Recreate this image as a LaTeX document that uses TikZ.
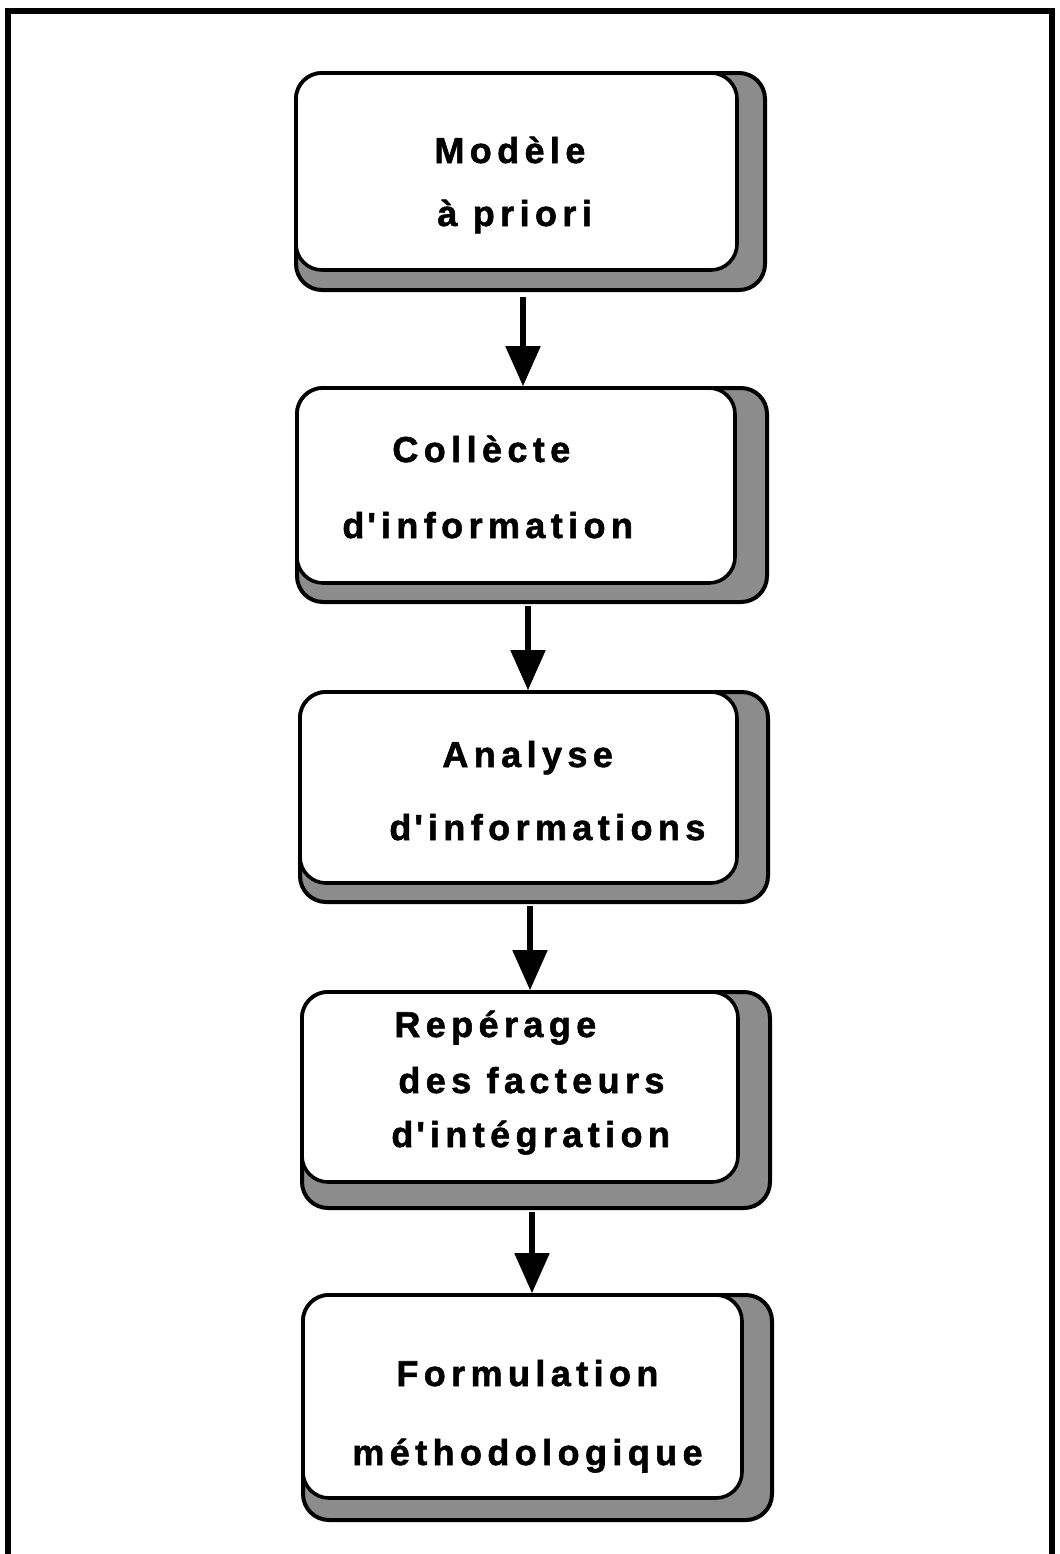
\documentclass[tikz,border=0pt]{standalone}
\usepackage{fontspec}
\newfontfamily\lblfont[LetterSpace=15,BoldFont={Liberation Sans Bold},BoldFeatures={FakeBold=1.5}]{Liberation Sans}
\usetikzlibrary{arrows.meta}
\tikzset{
  shadowbox/.style={draw=black, line width=2pt, fill=black!45, rounded corners=13pt, inner sep=0pt},
  stepbox/.style={draw=black, line width=1.8pt, fill=white, rounded corners=13pt, inner sep=0pt},
  lbl/.style={anchor=base west, inner sep=0pt, font=\lblfont\bfseries\fontsize{18pt}{21pt}\selectfont},
  arr/.style={line width=2.6pt, -{Triangle[length=20pt,width=17pt]}},
  frame/.style={line width=3pt}
}
\newcommand\apos{\kern1.5pt\textquotesingle\kern2.5pt}
\begin{document}
\begin{tikzpicture}[x=0.5pt,y=-0.5pt]
\useasboundingbox (0,0) rectangle (1060,1554);
\draw[frame] (7.5,1554) -- (7.5,11) -- (1052,11) -- (1052,1554);

% shadows
\node[shadowbox, minimum width=234.5pt, minimum height=108.5pt] (s1) at (530.5,181.5) {};
\node[shadowbox, minimum width=235pt, minimum height=107pt] (s2) at (532,495) {};
\node[shadowbox, minimum width=234pt, minimum height=105pt] (s3) at (534,797) {};
\node[shadowbox, minimum width=234pt, minimum height=108pt] (s4) at (536,1100) {};
\node[shadowbox, minimum width=234.5pt, minimum height=112.5pt] (s5) at (537.5,1407.5) {};

% boxes
\node[stepbox, minimum width=220.5pt, minimum height=98.5pt] (b1) at (516.5,171.5) {};
\node[stepbox, minimum width=219pt, minimum height=97.5pt] (b2) at (516,485.5) {};
\node[stepbox, minimum width=218.5pt, minimum height=95.5pt] (b3) at (518.5,787.5) {};
\node[stepbox, minimum width=218pt, minimum height=95pt] (b4) at (520,1087) {};
\node[stepbox, minimum width=219.5pt, minimum height=101.5pt] (b5) at (522.5,1396.5) {};

% labels
\node[lbl] (t1a) at (434,163) {Modèle};
\node[lbl] (t1b) at (437,226) {à priori};
\node[lbl] (t2a) at (392,462) {Collècte};
\node[lbl] (t2b) at (342,538) {d\apos information};
\node[lbl] (t3a) at (442,767) {Analyse};
\node[lbl] (t3b) at (389,840) {d\apos informations};
\node[lbl] (t4a) at (394,1037) {Repérage};
\node[lbl] (t4b) at (398,1093) {des facteurs};
\node[lbl] (t4c) at (391,1147) {d\apos intégration};
\node[lbl] (t5a) at (396,1386) {Formulation};
\node[lbl] (t5b) at (352,1465) {méthodologique};

% connectors
\draw[arr] ([yshift=-2.5pt]s1.south -| 523,0) -- (b2.north -| 523,0);
\draw[arr] ([yshift=-1pt]s2.south -| 528,0) -- (b3.north -| 528,0);
\draw[arr] ([yshift=-1pt]s3.south -| 530,0) -- (b4.north -| 530,0);
\draw[arr] ([yshift=-1pt]s4.south -| 532,0) -- (b5.north -| 532,0);
\end{tikzpicture}
\end{document}
